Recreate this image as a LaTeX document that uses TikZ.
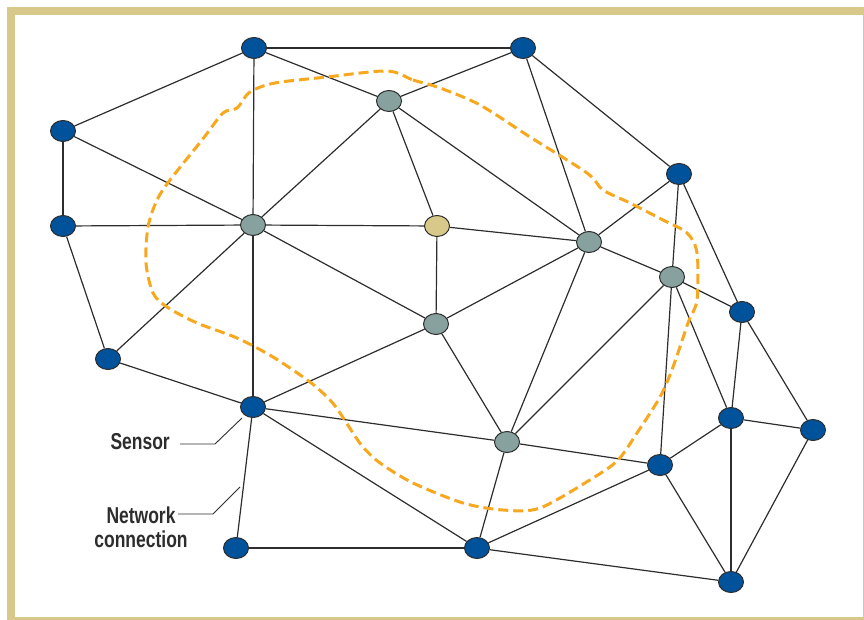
\documentclass[tikz,border=0pt]{standalone}
\usepackage{fontspec}
\usepackage{xcolor}
\usepackage{tikz}
\usetikzlibrary{shapes.geometric,positioning,calc}
\newfontfamily\labelfont[FakeStretch=0.76]{Liberation Sans}

\definecolor{sensorblue}{RGB}{0,82,155}
\definecolor{sensorgray}{RGB}{135,161,158}
\definecolor{sensortan}{RGB}{216,201,138}
\definecolor{framecolor}{RGB}{216,200,137}
\definecolor{regionorange}{RGB}{247,168,30}
\definecolor{inkgray}{RGB}{45,45,45}

\tikzset{
    sensor/.style={ellipse, draw=inkgray, line width=1pt, minimum width=25pt,
        minimum height=21pt, inner sep=0pt},
    bluesensor/.style={sensor, fill=sensorblue},
    graysensor/.style={sensor, fill=sensorgray},
    tansensor/.style={sensor, fill=sensortan},
    link/.style={draw=inkgray, line width=1.2pt},
    leader/.style={draw=inkgray, line width=0.9pt},
    caption/.style={font=\labelfont\bfseries\fontsize{23}{24}\selectfont,
        text=inkgray, align=center, inner sep=0pt}
}

\begin{document}
\begin{tikzpicture}[x=1pt,y=-1pt]
    \useasboundingbox (0,0) rectangle (864,620);
    \clip (0,0) rectangle (864,620);

    % Frame
    \draw[framecolor, line width=8pt] (11,11) rectangle (867,621);

    % Outer sensors
    \node[bluesensor] (b1) at (254,48) {};
    \node[bluesensor] (b2) at (523,48) {};
    \node[bluesensor] (b3) at (63,131) {};
    \node[bluesensor] (b4) at (63,226) {};
    \node[bluesensor] (b5) at (679,174) {};
    \node[bluesensor] (b6) at (108,359) {};
    \node[bluesensor] (b7) at (742,312) {};
    \node[bluesensor] (b8) at (253,407) {};
    \node[bluesensor] (b9) at (731,418) {};
    \node[bluesensor] (b10) at (813,430) {};
    \node[bluesensor] (b11) at (660,465) {};
    \node[bluesensor] (b12) at (236,548) {};
    \node[bluesensor] (b13) at (477,548) {};
    \node[bluesensor] (b14) at (731,582) {};

    % Inner sensors
    \node[graysensor] (g1) at (389,101) {};
    \node[graysensor] (g2) at (253,225) {};
    \node[graysensor] (g3) at (589,242) {};
    \node[graysensor] (g4) at (672,277) {};
    \node[graysensor] (g5) at (436,324) {};
    \node[graysensor] (g6) at (507,442) {};
    \node[tansensor] (t1) at (437,226) {};

    % Network connections
    \foreach \a/\b in {b1/b2, b1/b3, b1/g1, b1/g2, b2/g1, b2/b5, b2/g3,
        b3/b4, b3/g2, b4/g2, b4/b6, b6/g2, b6/b8,
        g2/g1, g2/t1, g2/g5, g2/b8, g1/t1, g1/g3, t1/g3, t1/g5,
        b5/g3, b5/g4, b5/b7, g3/g4, g3/g5, g3/g6,
        g4/b7, g4/g6, g4/b11, g4/b9, g5/b8, g5/g6, b8/g6, b8/b12, b8/b13,
        g6/b11, g6/b13, b7/b9, b7/b10, b9/b10, b9/b11, b9/b14, b10/b14,
        b11/b13, b11/b14, b12/b13, b13/b14}
        \draw[link] (\a) -- (\b);

    % Region boundary
    \draw[regionorange, line width=3pt, dash pattern=on 10pt off 5pt]
        plot[smooth cycle, tension=0.5] coordinates {
        (387,71) (413,80) (440,88) (480,105) (530,137) (587,173) (603,190)
        (630,203) (663,220) (687,233) (697,253) (697,300) (688,323) (673,367)
        (660,397) (637,433) (618,460) (593,478) (540,508) (503,510) (463,503)
        (413,483) (380,463) (363,447) (353,433) (340,413) (330,400) (310,382)
        (273,357) (237,338) (197,323) (167,307) (153,293) (146,263) (148,227)
        (157,200) (170,180) (202,140) (223,113) (237,108) (250,92) (275,83)
        (327,77)};

    % Labels
    \node[caption, anchor=east] (sensorlbl) at (170,442) {Sensor};
    \node[caption] (netlbl) at (141,527) {Network\\connection};
    \coordinate (sensortip) at (242,418);
    \coordinate (nettip) at (240,487);
    \draw[leader] (180,444) -- (215,444) -- (sensortip);
    \draw[leader] (178,514) -- (213,514) -- (nettip);
\end{tikzpicture}
\end{document}
